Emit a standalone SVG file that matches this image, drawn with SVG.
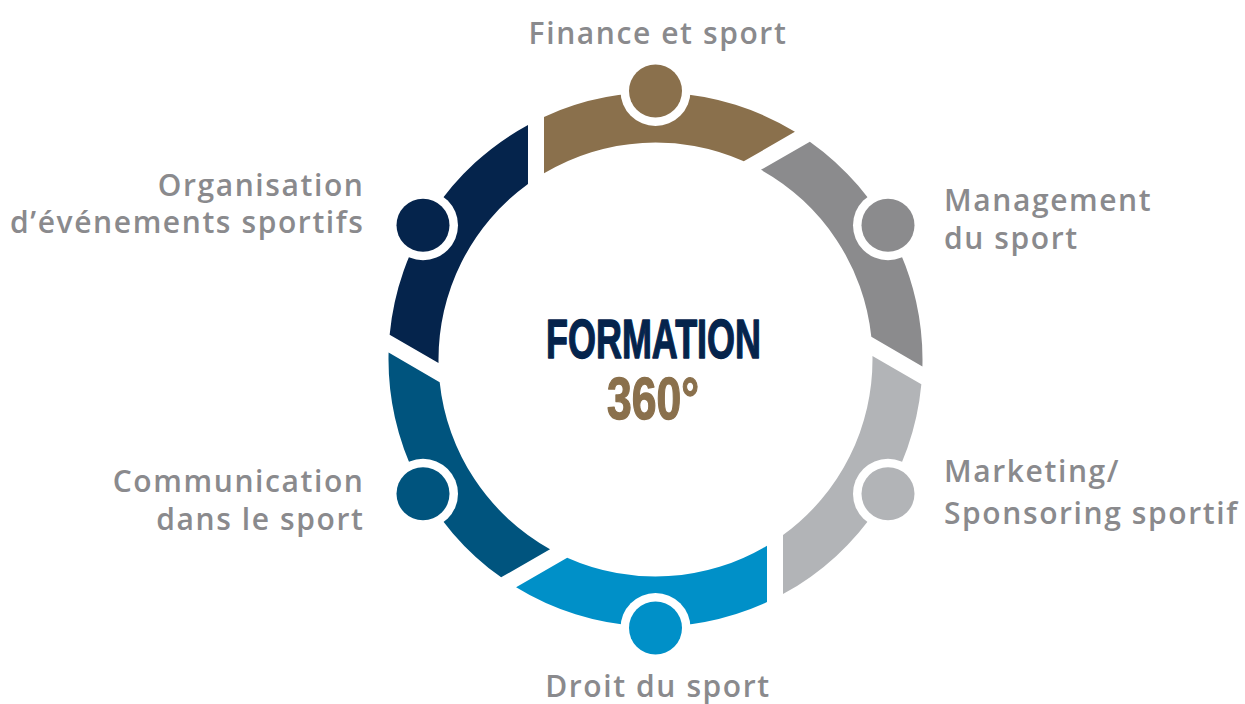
<svg xmlns="http://www.w3.org/2000/svg" xmlns:xlink="http://www.w3.org/1999/xlink" width="1245" height="704" viewBox="0 0 1245 704">
  <style>
    .lbl { font-family: "Open Sans", "Liberation Sans", sans-serif; font-weight: 600; font-size: 30px; letter-spacing: 1.6px; fill: #8A8A8D; }
    .halo { fill: #FFFFFF; }
    .title { font-family: "Liberation Sans", "DejaVu Sans", sans-serif; font-weight: bold; stroke-width: 1.4px; stroke-linejoin: round; }
  </style>
  <defs>
    <path id="seg" d="M -111.5,-242.6 A 267 267 0 0 1 139.41,-227.71 L 88.31,-198.22 A 217 217 0 0 0 -111.5,-186.16 Z"/>
  </defs>
  <rect width="1245" height="704" fill="#FFFFFF"/>

  <g id="ring" transform="translate(655.5,359.5)">
    <use xlink:href="#seg" href="#seg" fill="#8A704C" transform="rotate(0)"/>
    <use xlink:href="#seg" href="#seg" fill="#8B8B8D" transform="rotate(60)"/>
    <use xlink:href="#seg" href="#seg" fill="#B2B4B7" transform="rotate(120)"/>
    <use xlink:href="#seg" href="#seg" fill="#0090C8" transform="rotate(180)"/>
    <use xlink:href="#seg" href="#seg" fill="#00547E" transform="rotate(240)"/>
    <use xlink:href="#seg" href="#seg" fill="#05244C" transform="rotate(300)"/>
  </g>

  <g id="connectors"></g>

  <g id="node-finance">
    <circle class="halo" cx="655.5" cy="91" r="35"/>
    <circle cx="655.5" cy="91" r="26.5" fill="#8A704C"/>
    <text class="lbl" x="658" y="44" text-anchor="middle">Finance et sport</text>
  </g>
  <g id="node-management">
    <circle class="halo" cx="888" cy="225.25" r="35"/>
    <circle cx="888" cy="225.25" r="26.5" fill="#8B8B8D"/>
    <text class="lbl" x="944" y="211">Management</text>
    <text class="lbl" x="944" y="249">du sport</text>
  </g>
  <g id="node-marketing">
    <circle class="halo" cx="888" cy="493.75" r="35"/>
    <circle cx="888" cy="493.75" r="26.5" fill="#B2B4B7"/>
    <text class="lbl" x="944" y="482">Marketing/</text>
    <text class="lbl" x="944" y="524">Sponsoring sportif</text>
  </g>
  <g id="node-droit">
    <circle class="halo" cx="655.5" cy="628" r="35"/>
    <circle cx="655.5" cy="628" r="26.5" fill="#0090C8"/>
    <text class="lbl" x="658" y="697" text-anchor="middle">Droit du sport</text>
  </g>
  <g id="node-communication">
    <circle class="halo" cx="423" cy="493.75" r="35"/>
    <circle cx="423" cy="493.75" r="26.5" fill="#00547E"/>
    <text class="lbl" x="364.5" y="492" text-anchor="end">Communication</text>
    <text class="lbl" x="364.5" y="530" text-anchor="end">dans le sport</text>
  </g>
  <g id="node-organisation">
    <circle class="halo" cx="423" cy="225.25" r="35"/>
    <circle cx="423" cy="225.25" r="26.5" fill="#05244C"/>
    <text class="lbl" x="364.5" y="196" text-anchor="end">Organisation</text>
    <text class="lbl" x="364.5" y="233" text-anchor="end">d’événements sportifs</text>
  </g>

  <g id="node-center">
    <text class="title" x="546" y="358" font-size="56" fill="#05244C" stroke="#05244C" textLength="215" lengthAdjust="spacingAndGlyphs">FORMATION</text>
    <text class="title" x="607" y="419" font-size="60" fill="#8A704C" stroke="#8A704C" textLength="92" lengthAdjust="spacingAndGlyphs">360°</text>
  </g>
</svg>
